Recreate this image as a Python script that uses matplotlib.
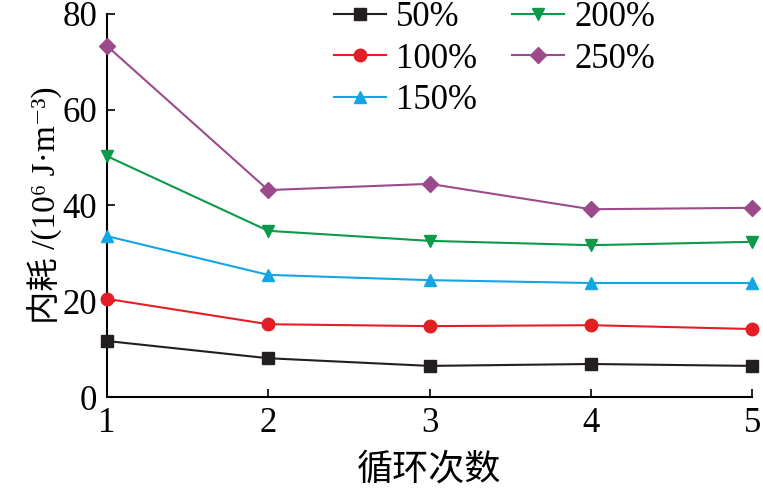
import matplotlib.pyplot as plt

plt.rcParams['font.family'] = ['Liberation Serif', 'Noto Sans CJK SC', 'DejaVu Serif']

# 数据
cycles = [1, 2, 3, 4, 5]
labels = ['50%', '100%', '150%', '200%', '250%']
v50 = [11.7, 8.1, 6.5, 6.9, 6.5]
v100 = [20.5, 15.2, 14.8, 15.0, 14.2]
v150 = [33.6, 25.5, 24.4, 23.8, 23.8]
v200 = [50.3, 34.7, 32.6, 31.7, 32.4]
v250 = [73.3, 43.2, 44.5, 39.2, 39.5]

series = [v50, v100, v150, v200, v250]
colors = ['#231f20', '#e31e24', '#14a5e3', '#0a9a4a', '#9b4a8c']
markers = ['s', 'o', '^', 'v', 'D']
msizes = [8, 9, 9, 9, 8]

fig = plt.figure(figsize=(7.63, 4.92), dpi=100)
ax = fig.add_axes([0.140, 0.193, 0.846, 0.779])

for vals, lab, c, m, ms in zip(series, labels, colors, markers, msizes):
    ax.plot(cycles, vals, color=c, marker=m, markersize=ms, linewidth=1.5,
            label=lab, clip_on=False, zorder=3)

ax.set_xlim(1, 5)
ax.set_ylim(0, 80)
ax.set_xticks(cycles)
ax.set_yticks([0, 20, 40, 60, 80])
ax.spines['top'].set_visible(False)
ax.spines['right'].set_visible(False)
for s in ['left', 'bottom']:
    ax.spines[s].set_linewidth(1.5)
ax.tick_params(direction='in', labelsize=25, width=1.2, length=6, pad=7)

ax.set_xlabel('循环次数', fontsize=26, labelpad=10)
ax.set_ylabel('内耗 /(10⁶ J·m⁻³)', fontsize=24, labelpad=0)

ax.legend(ncol=2, frameon=False, fontsize=25, loc='upper left',
          bbox_to_anchor=(0.33, 1.07), handlelength=1.5, handletextpad=0.3,
          columnspacing=1.0, labelspacing=0.25, borderaxespad=0)

fig.savefig('out.png', dpi=100)
